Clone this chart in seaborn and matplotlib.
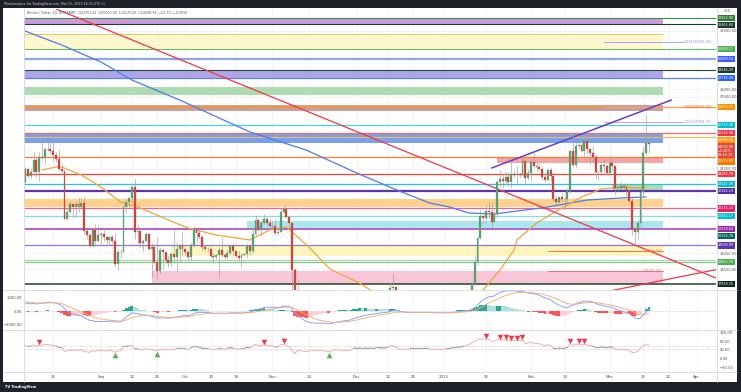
import numpy as np
import pandas as pd
import matplotlib
matplotlib.use("Agg")
import matplotlib.pyplot as plt
import matplotlib.dates as mdates
from matplotlib.lines import Line2D
from matplotlib.patches import Rectangle
from matplotlib.ticker import NullLocator, NullFormatter
import seaborn as sns

# ---------------- data: BTC/USD daily (BITSTAMP) ----------------
first_day = "2022-08-05"
# closes 2022-07-01 .. 2022-08-04 (indicator warm-up, outside the visible range)
warmup_close = [19280, 19250, 19300, 20230, 20190, 20550, 21620, 21590, 21590, 20850,
                19960, 19330, 20210, 20570, 20830, 21190, 20780, 22470, 23390, 23230,
                23160, 22680, 22460, 22580, 21310, 21250, 22950, 23850, 23780, 23640,
                23300, 23270, 22990, 22820, 22620]

close = [
    # Aug 5-31
    23310, 22960, 23180, 23810, 23150, 23950, 23940, 24400, 24440, 24300, 24100, 23850, 23340, 23200,
    20830, 21150, 21520, 21400, 21530, 21370, 21560, 20240, 20040, 19550, 20280, 19810, 20050,
    # Sep
    20130, 19950, 19830, 19990, 19800, 18790, 19290, 19320, 21370, 21650, 21830, 22400, 20180, 20240, 19700,
    19800, 20110, 19420, 19540, 18880, 18480, 19400, 19300, 18930, 18800, 19230, 19080, 19410, 19590, 19420,
    # Oct
    19310, 19060, 19620, 20340, 20160, 19960, 19530, 19420, 19440, 19130, 19060, 19150, 19370, 19180, 19070,
    19260, 19550, 19330, 19120, 19040, 19160, 19200, 19570, 19330, 20090, 20770, 20290, 20600, 20810, 20630, 20490,
    # Nov
    20480, 20150, 20210, 21150, 21300, 20910, 20600, 18540, 15880, 17590, 17070, 16810, 16330, 16620, 16900,
    16660, 16690, 16700, 16700, 16280, 15780, 16200, 16610, 16600, 16520, 16460, 16440, 16220, 16440, 17160,
    # Dec
    16980, 17090, 16890, 17110, 16970, 17090, 16840, 17230, 17130, 17130, 17100, 17210, 17780, 17810, 17360,
    16630, 16780, 16740, 16440, 16900, 16820, 16830, 16780, 16840, 16840, 16920, 16700, 16540, 16630, 16600, 16540,
    # Jan
    16610, 16670, 16670, 16850, 16830, 16950, 16940, 17120, 17180, 17440, 17940, 18850, 19930, 20950, 20870,
    21180, 21130, 20670, 21070, 22670, 22780, 22710, 22920, 22620, 23060, 23010, 23080, 23030, 23740, 22830, 23130,
    # Feb
    23730, 23490, 23430, 23330, 22930, 22760, 23260, 22960, 21800, 21630, 21860, 21780, 21780, 22200,
    24330, 23520, 24570, 24630, 24300, 24840, 24440, 24190, 23950, 23190, 23150, 23550, 23490, 23140,
    # Mar 1-15
    23630, 23470, 22350, 22350, 22430, 22410, 22200, 21700, 20360, 20190, 20630, 22140, 24200, 24761.41, 24698.99,
]
high = [
    23460, 23370, 23390, 24240, 23930, 24230, 24920, 24460, 24890, 25050, 25210, 24230, 24430, 23590,
    23200, 21370, 21680, 21520, 21660, 21860, 21820, 21860, 20330, 20140, 20400, 20560, 20480,
    20190, 20440, 19970, 20000, 20050, 20160, 19430, 19450, 21450, 21790, 21850, 22480, 22800, 20560, 20340,
    19900, 20180, 20170, 19680, 19630, 19950, 19500, 19460, 19310, 19170, 19300, 20350, 19760, 19640, 20190,
    19470, 19390, 19710, 20470, 20360, 20440, 20050, 19610, 19520, 19520, 19270, 19220, 19500, 19950, 19220,
    19400, 19670, 19700, 19350, 19350, 19240, 19260, 19690, 19600, 20400, 21000, 20850, 20750, 21070, 20930, 20830,
    20700, 20790, 20390, 21300, 21470, 21370, 20950, 20690, 18590, 18150, 17650, 17150, 16880, 17180, 17110,
    16970, 16730, 16990, 16810, 16780, 16290, 16250, 16680, 16780, 16610, 16690, 16600, 16480, 16520, 17240,
    17320, 17110, 17150, 17200, 17420, 17110, 17130, 17300, 17350, 17220, 17270, 17240, 18000, 18390, 17850,
    17530, 16800, 16860, 16820, 17040, 16910, 16860, 16950, 16860, 16870, 16940, 16960, 16780, 16660, 16640, 16630,
    16630, 16760, 16780, 16990, 16880, 17010, 16970, 17180, 17390, 17490, 18000, 19110, 19960, 21260, 21000,
    21470, 21640, 21620, 21180, 22750, 23280, 23060, 23160, 23170, 23780, 23280, 23480, 23160, 23950, 23790, 23310,
    23810, 24240, 23710, 23580, 23430, 23150, 23360, 23450, 23010, 21940, 21900, 22090, 21890, 22320,
    24380, 25250, 25020, 24860, 25180, 25120, 25250, 24470, 24600, 24130, 23210, 23690, 23880, 23600,
    24000, 23790, 23480, 22410, 22620, 22570, 22540, 22260, 21820, 20370, 20820, 22190, 24550, 26500, 25000,
]
low = [
    22590, 22900, 22850, 23150, 22880, 22680, 23880, 23580, 24310, 24150, 23780, 23700, 23210, 23110,
    20790, 20800, 21100, 20890, 20900, 21160, 21320, 20120, 19860, 19540, 19530, 19550, 19800,
    19650, 19770, 19660, 19600, 19640, 18650, 18540, 19020, 19300, 21120, 21380, 21580, 19880, 19650, 19500,
    19330, 19760, 19380, 18240, 18780, 18150, 18360, 18560, 18810, 18640, 18690, 18830, 18480, 18880, 19170,
    19170, 18950, 18970, 19500, 19750, 19870, 19350, 19330, 19330, 19060, 18880, 18980, 18190, 19080, 18980,
    19040, 19150, 19120, 19040, 18920, 18660, 19120, 19080, 19170, 19260, 20060, 20230, 20020, 20560, 20530, 20280,
    20350, 20070, 20050, 20180, 21080, 20880, 20400, 17170, 15600, 15750, 16400, 16760, 16230, 15820, 16560,
    16440, 16410, 16630, 16580, 16250, 15480, 15630, 16150, 16460, 16360, 16400, 16400, 16000, 16110, 16430,
    16860, 16790, 16880, 16880, 16880, 16910, 16680, 16740, 17090, 17090, 17070, 16870, 17080, 17660, 17280,
    16560, 16580, 16690, 16400, 16400, 16760, 16590, 16760, 16780, 16740, 16790, 16600, 16470, 16490, 16340, 16490,
    16500, 16550, 16610, 16650, 16770, 16680, 16910, 16910, 17100, 17140, 17310, 17910, 18720, 19880, 20550,
    20640, 20850, 20400, 20660, 20870, 22400, 22320, 22530, 22460, 22340, 22860, 22530, 22880, 23000, 22560, 22730,
    22760, 23380, 23220, 23250, 22760, 22640, 22740, 22680, 21700, 21470, 21600, 21630, 21360, 21530,
    22060, 23460, 23370, 24450, 24270, 23880, 24150, 23600, 23640, 22860, 22750, 23080, 23110, 23020,
    23020, 23200, 21990, 22190, 22270, 22310, 21930, 21610, 20050, 19550, 19890, 20270, 21910, 24100, 24176.56,
]

# moving averages
ema_fast_dates = ["2022-08-11", "2022-08-16", "2022-08-18", "2022-08-25", "2022-09-01", "2022-09-08",
                  "2022-09-15", "2022-09-25", "2022-10-02", "2022-10-12", "2022-10-24", "2022-10-31",
                  "2022-11-06", "2022-11-08", "2022-11-14", "2022-11-20", "2022-11-22", "2022-12-02",
                  "2022-12-07", "2022-12-20", "2023-01-05", "2023-01-15", "2023-01-21", "2023-01-26",
                  "2023-01-27", "2023-02-03", "2023-02-09", "2023-02-14", "2023-02-19", "2023-02-26",
                  "2023-03-05", "2023-03-12", "2023-03-14"]
ema_fast_vals = [23274, 23434, 23434, 23009, 22387, 21633, 21339, 20762, 20386, 20062, 19835, 20293,
                 20432, 20200, 19520, 18734, 18521, 17979, 17613, 17350, 17300, 17694, 18521, 19387,
                 19835, 20620, 21096, 21486, 21882, 22285, 22387, 22337, 22387]
ema_slow_dates = ["2022-08-05", "2022-08-18", "2022-09-01", "2022-09-12", "2022-09-29", "2022-10-24",
                  "2022-11-13", "2022-12-01", "2022-12-17", "2022-12-27", "2023-01-03", "2023-01-10",
                  "2023-01-19", "2023-02-07", "2023-02-21", "2023-03-05", "2023-03-14"]
ema_slow_vals = [31971, 30965, 29785, 28585, 27309, 25384, 24361, 23115, 22133, 21584, 21388, 21096,
                 21048, 21388, 21732, 21832, 21882]

# horizontal levels
level_prices = [32933.90, 32465.80, 30680.11, 30009.54, 29246.49, 28716.34, 26875.71, 25793.28,
                25326.38, 25096.44, 23975.87, 23062.78, 22541.76, 22183.19, 21316.10, 20952.17,
                20339.04, 19590.09, 18863.79, 17938.35]
level_colors = ['#3e8e4e', '#1d3b2b', '#66bb6a', '#8fa6ec', '#1e4b33', '#5b83f0', '#ff9800', '#4dd0e1',
                '#f26b6b', '#ffb74d', '#ff7b2e', '#f44336', '#26c6da', '#5e35b1', '#f06292', '#80deea',
                '#ab47bc', '#9575cd', '#81c784', '#1e4620']
badge_colors = ['#2e7d32', '#17382a', '#4caf50', '#3d5afe', '#173d2b', '#2962ff', '#f59300', '#00bcd4',
                '#f23645', '#ff9800', '#f57c00', '#f23645', '#00bcd4', '#512da8', '#e91e63', '#00bcd4',
                '#9c27b0', '#5e35b1', '#4caf50', '#0f2a1b']
level_widths = [0.8, 0.8, 0.8, 1.6, 0.8, 0.9, 0.9, 0.9, 0.9, 0.8, 0.9, 0.9, 0.9, 1.6, 0.9, 0.9,
                1.2, 0.9, 0.9, 1.1]
extra_badge_price = 20154.78
extra_badge_color = '#00695c'

# zones
zone_low = [32465.80, 30680.11, 28716.34, 27623, 26631, 24750, 23649, 22234, 21388, 20386, 19123, 17938.35]
zone_high = [32933.90, 31753, 29246.49, 28132, 26999, 25330, 23975.87, 22541.76, 21782, 20714, 19565, 18479]
zone_start = ["2022-08-01", "2022-08-01", "2022-08-01", "2022-08-01", "2022-08-01", "2022-08-01",
              "2023-01-20", "2023-03-02", "2022-08-01", "2022-10-23", "2022-09-26", "2022-09-19"]
zone_end = "2023-03-20"
zone_colors = ['#c98fd9', '#fff7c8', '#a99be8', '#a6d8a8', '#c49492', '#6a96ea', '#f39a9a', '#a6d8a8',
               '#ffcc80', '#a0e4ec', '#fff4b8', '#f8c0d4']

# fibonacci extension labels
fib_prices = [31166.32, 26875.71, 25994.71]
fib_labels = ["2.618(31166.32)", "1.618(26875.71)", "1.382(25994.71)"]
fib_colors = ['#9fb4f0', '#f6a07a', '#d6a3d9']
fib_text_colors = ['#7b93e8', '#ef5350', '#c27bd0']
fib_start, fib_end = "2023-02-27", "2023-03-27"
short_prices = [19350.23, 18486.57]
short_labels = ["(19350.23)", "(18486.57)"]
short_colors = ['#ff7043', '#e57373']
short_start = "2023-02-07"

# trend lines
trend_red_dates = ["2022-08-14", "2022-10-17"]
trend_red_prices = [33797, 28585]
trend_red2_dates = ["2023-03-01", "2023-04-09"]
trend_red2_prices = [17654, 18564]
trend_purple_dates = ["2023-01-18", "2023-03-23"]
trend_purple_prices = [23380, 27309]

# RSI signal markers
rsi_sell_dates = ["2022-08-10", "2022-10-29", "2022-11-05", "2023-01-16", "2023-01-21", "2023-01-23",
                  "2023-01-25", "2023-01-27", "2023-01-29", "2023-02-15", "2023-02-18", "2023-02-20"]
rsi_buy_dates = ["2022-09-06", "2022-09-21", "2022-11-21"]

time_ticks = ["2022-08-15", "2022-09-01", "2022-09-12", "2022-09-21", "2022-10-01", "2022-10-10",
              "2022-10-19", "2022-11-01", "2022-11-14", "2022-12-01", "2022-12-12", "2022-12-21",
              "2023-01-01", "2023-01-16", "2023-02-01", "2023-02-13", "2023-03-01", "2023-03-13",
              "2023-03-22", "2023-04-01"]
time_labels = ["15", "Sep", "12", "21", "Oct", "10", "19", "Nov", "14", "Dec", "12", "21", "2023", "16",
               "Feb", "13", "Mar", "13", "22", "Apr"]
price_ticks = [17750, 18150, 18550, 18850, 19250, 19850, 20500, 21000, 21500, 22000, 22750, 23350,
               24000, 25000, 26000, 27000, 27500, 28000, 28400, 29000, 30000, 31000, 32000, 33000]

# ---------------- derived series ----------------
dates = pd.date_range(first_day, periods=len(close), freq="D")
xd = mdates.date2num(dates)
c = np.array(close, float)
h = np.array(high, float)
l = np.array(low, float)
o = np.r_[warmup_close[-1], c[:-1]]

allc = pd.Series(list(warmup_close) + list(close), dtype=float)
ema12 = allc.ewm(span=12, adjust=False).mean()
ema26 = allc.ewm(span=26, adjust=False).mean()
macd_all = ema12 - ema26
sig_all = macd_all.ewm(span=9, adjust=False).mean()
n = len(close)
macd = macd_all.values[-n:]
sig = sig_all.values[-n:]
hist = macd - sig
delta = allc.diff().fillna(0)
ag = delta.clip(lower=0).ewm(alpha=1 / 14, adjust=False).mean()
al = (-delta.clip(upper=0)).ewm(alpha=1 / 14, adjust=False).mean()
rsi = (100 - 100 / (1 + ag / al)).values[-n:]


def psar(hh, ll, step=0.02, mx=0.2):
    m = len(hh)
    sar = np.zeros(m)
    up = np.zeros(m, bool)
    bull, af, ep = True, step, hh[0]
    sar[0], up[0] = ll[0], True
    for i in range(1, m):
        s = sar[i - 1] + af * (ep - sar[i - 1])
        if bull:
            s = min(s, ll[i - 1], ll[max(i - 2, 0)])
            if ll[i] < s:
                bull, s, ep, af = False, ep, ll[i], step
            elif hh[i] > ep:
                ep, af = hh[i], min(af + step, mx)
        else:
            s = max(s, hh[i - 1], hh[max(i - 2, 0)])
            if hh[i] > s:
                bull, s, ep, af = True, ep, hh[i], step
            elif ll[i] < ep:
                ep, af = ll[i], min(af + step, mx)
        sar[i], up[i] = s, bull
    return sar, up


sar, sar_up = psar(h, l)

# ---------------- figure ----------------
sns.set_theme(style="white")
plt.rcParams['font.family'] = ['DejaVu Sans']
W, H = 741, 392
fig = plt.figure(figsize=(W / 100, H / 100), dpi=100)
fig.patch.set_facecolor('#1f2129')


def fx(px):
    return px / W


def fy(py):
    return 1 - py / H


fig.add_artist(Rectangle((fx(3), fy(382)), fx(737) - fx(3), fy(8) - fy(382),
                         transform=fig.transFigure, facecolor='white', edgecolor='none', zorder=-10))

L, R, TOP, BOT = 24, 716, 9, 290
ax = fig.add_axes([fx(L), fy(BOT), fx(R) - fx(L), fy(TOP) - fy(BOT)])
axm = fig.add_axes([fx(L), fy(330), fx(R) - fx(L), fy(290) - fy(330)])
axr = fig.add_axes([fx(L), fy(372), fx(R) - fx(L), fy(330) - fy(372)])

x0 = mdates.date2num(pd.Timestamp("2022-08-04")) + 0.6
x1 = x0 + (R - L) / 2.81
tx = mdates.date2num(pd.to_datetime(time_ticks))
grid_c = '#eef0f4'
for a in (ax, axm, axr):
    a.set_facecolor('white')
    for s in a.spines.values():
        s.set_visible(False)
    a.set_xlim(x0, x1)
    for t in tx:
        a.axvline(t, color=grid_c, lw=0.5, zorder=0)
    a.tick_params(axis='both', length=0, labelsize=2.7, colors='#4a4d57', pad=1.5)
    a.set_xticks([])

# ---- main pane ----
YMIN, YMAX = 17694, 33619
ax.set_yscale('log')
ax.set_ylim(YMIN, YMAX)
ax.yaxis.tick_right()
ax.yaxis.set_minor_locator(NullLocator())
ax.yaxis.set_minor_formatter(NullFormatter())


def ypix(p):
    # pixel row (from the top of the image) of a price in the main pane
    frac = (np.log(p) - np.log(YMIN)) / (np.log(YMAX) - np.log(YMIN))
    return BOT - frac * (BOT - TOP)


zend = mdates.date2num(pd.Timestamp(zone_end))
for lo_, hi_, st, col in zip(zone_low, zone_high, zone_start, zone_colors):
    xs = mdates.date2num(pd.Timestamp(st))
    ax.add_patch(Rectangle((xs, lo_), zend - xs, hi_ - lo_, facecolor=col, edgecolor='none',
                           alpha=0.9, zorder=1))
ax.plot([x0 - 5, zend], [zone_high[1], zone_high[1]], color='#efc65e', lw=0.7, zorder=1.5)

for p, col, w in zip(level_prices, level_colors, level_widths):
    ax.axhline(p, color=col, lw=w, zorder=2)
ax.axhline(18949, color='#a5d6a7', lw=0.8, zorder=2)

fs, fe = mdates.date2num(pd.Timestamp(fib_start)), mdates.date2num(pd.Timestamp(fib_end))
for p, lab, col, tcol in zip(fib_prices, fib_labels, fib_colors, fib_text_colors):
    ax.plot([fs, fe], [p, p], color=col, lw=0.8, zorder=2.2)
    ax.text(fe + 0.4, p, lab, color=tcol, fontsize=2.4, va='center', ha='left', zorder=6)
ss = mdates.date2num(pd.Timestamp(short_start))
for p, lab, col in zip(short_prices, short_labels, short_colors):
    ax.plot([ss, zend], [p, p], color=col, lw=0.7, zorder=2.2)
    ax.text(zend - 0.3, p, lab, color=col, fontsize=2.3, va='center', ha='right', zorder=6)

sns.lineplot(x=mdates.date2num(pd.to_datetime(ema_slow_dates)), y=ema_slow_vals, ax=ax,
             color='#4a7cf0', lw=0.9, zorder=3, legend=False)
sns.lineplot(x=mdates.date2num(pd.to_datetime(ema_fast_dates)), y=ema_fast_vals, ax=ax,
             color='#f5a33b', lw=0.9, zorder=3, legend=False)

trx = mdates.date2num(pd.to_datetime(trend_red_dates))
ax.axline((trx[0], trend_red_prices[0]), (trx[1], trend_red_prices[1]), color='#f23645', lw=0.9, zorder=4)
tr2 = mdates.date2num(pd.to_datetime(trend_red2_dates))
ax.plot(tr2, trend_red2_prices, color='#f23645', lw=0.9, zorder=4)
tpx = mdates.date2num(pd.to_datetime(trend_purple_dates))
ax.plot(tpx, trend_purple_prices, color='#6a3fc0', lw=1.1, zorder=4)

up = c >= o
cols = np.where(up, '#5b9f6e', '#c9473b')
ax.vlines(xd, l, h, color='#9e9e9e', lw=0.45, zorder=4.5)
ax.bar(xd, np.maximum(np.abs(c - o), 12), bottom=np.minimum(o, c), width=0.68, color=cols,
       edgecolor=cols, linewidth=0.2, zorder=5)

sns.scatterplot(x=xd[sar_up], y=sar[sar_up], ax=ax, color='#5cb860', s=0.5, marker='s',
                linewidth=0, alpha=0.9, zorder=5.5, legend=False)
sns.scatterplot(x=xd[~sar_up], y=sar[~sar_up], ax=ax, color='#f05a5a', s=0.5, marker='s',
                linewidth=0, alpha=0.9, zorder=5.5, legend=False)
ax.set_xlim(x0, x1)
ax.set_ylim(YMIN, YMAX)
ax.set_xlabel('')
ax.set_ylabel('')

# ---- price-scale badges, stacked so they do not overlap ----
badges = [(p, f"{p:.2f}", bc, 1) for p, bc in zip(level_prices, badge_colors)]
badges.append((extra_badge_price, f"{extra_badge_price:.2f}", extra_badge_color, 1))
badges.append((close[-1], f"{close[-1]:.2f}\n\u22120.26%\n08:28:31", '#e0473d', 3))
items = sorted([(ypix(p), txt, col, nl) for p, txt, col, nl in badges])
LINE_H, PADP = 4.0, 1.2
placed = []
last_bottom = -1e9
for yc, txt, col, nl in items:
    hh = nl * LINE_H + 2 * PADP
    top = max(yc - hh / 2, last_bottom + 0.4)
    last_bottom = top + hh
    placed.append((top + hh / 2, txt, col, hh))
for yc, txt, col, hh in placed:
    ax.text(1.003, (BOT - yc) / (BOT - TOP), txt, transform=ax.transAxes, fontsize=2.45, color='white',
            va='center', ha='left', linespacing=1.0, clip_on=False, zorder=10,
            bbox=dict(boxstyle='square,pad=0.35', facecolor=col, edgecolor='none'))

# tick labels only where no badge covers them, and not crowded
vis_ticks = []
for p in sorted(price_ticks, key=lambda q: -q):
    yp = ypix(p)
    if yp < 17 or yp > BOT - 2:
        continue
    if any(abs(yp - yc) <= hh / 2 + 2.0 for yc, _, _, hh in placed):
        continue
    if vis_ticks and abs(yp - ypix(vis_ticks[-1])) < 6:
        continue
    vis_ticks.append(p)
for p in vis_ticks:
    ax.axhline(p, color=grid_c, lw=0.5, zorder=0)
ax.set_yticks(vis_ticks)
ax.set_yticklabels([f"{p:.2f}" for p in vis_ticks])
ax.tick_params(axis='y', labelsize=2.6, pad=2.5)

ax.text(3 / 692, 1 - 3.5 / 281,
        "Bitcoin / Dollar, 1D, BITSTAMP   O24761.41  H25000.00  L24176.56  C24698.99  \u221262.70 (\u22120.26%)",
        transform=ax.transAxes, fontsize=2.3, color='#555861', va='center', ha='left', zorder=12)

# ---- MACD pane ----
colors_h = []
for i, v in enumerate(hist):
    prev = hist[i - 1] if i > 0 else v
    if v >= 0:
        colors_h.append('#26a69a' if v >= prev else '#b2dfdb')
    else:
        colors_h.append('#ff5252' if v < prev else '#ffcdd2')
axm.bar(xd, hist, width=1.0, color=colors_h, linewidth=0, zorder=2)
axm.axhline(0, color='#c5c7cc', lw=0.5, ls=(0, (1, 1)), zorder=1)
sns.lineplot(x=xd, y=macd, ax=axm, color='#8aa4f6', lw=0.7, zorder=3, legend=False)
sns.lineplot(x=xd, y=sig, ax=axm, color='#f6b27e', lw=0.7, zorder=3, legend=False)
axm.set_xlim(x0, x1)
axm.set_ylim(-1407, 1556)
axm.set_yticks([1000, 0, -1000])
axm.set_yticklabels(["1000.00", "0.00", "\u22121000.00"])
axm.yaxis.tick_left()
axm.set_xticks([])
axm.set_xlabel('')
axm.set_ylabel('')

# ---- RSI pane ----
axr.axhline(58, color='#b9bbc2', lw=0.5, ls=(0, (1, 1.5)), zorder=1)
axr.axhline(45, color='#b9bbc2', lw=0.5, ls=(0, (1, 1.5)), zorder=1)
sns.lineplot(x=xd, y=rsi, ax=axr, color='#f3a0a0', lw=0.6, zorder=2, legend=False)
rsi_mid = np.where((rsi >= 45) & (rsi <= 58), rsi, np.nan)
axr.plot(xd, rsi_mid, color='#9a9ca3', lw=0.6, zorder=2.5)
sd = mdates.date2num(pd.to_datetime(rsi_sell_dates))
bd = mdates.date2num(pd.to_datetime(rsi_buy_dates))
sidx = [int(round(v - xd[0])) for v in sd]
bidx = [int(round(v - xd[0])) for v in bd]
sns.scatterplot(x=sd, y=rsi[sidx] + 13, ax=axr, color='#f23645', marker='v', s=16, linewidth=0,
                zorder=4, legend=False)
sns.scatterplot(x=bd, y=rsi[bidx] - 13, ax=axr, color='#4caf50', marker='^', s=16, linewidth=0,
                zorder=4, legend=False)
axr.set_xlim(x0, x1)
axr.set_ylim(-57.8, 128.9)
axr.yaxis.tick_right()
axr.set_yticks([120, 80, 40, 0, -40])
axr.set_yticklabels(["120.00", "80.00", "40.00", "0.00", "\u221240.00"])
axr.set_xticks(tx)
axr.set_xticklabels(time_labels)
axr.tick_params(axis='x', labelsize=2.8, pad=2.5, colors='#4a4d57')
axr.tick_params(axis='y', pad=2.5)
axr.set_xlabel('')
axr.set_ylabel('')

# ---- frame, separators, texts ----
sep = '#d5d7dd'
fig.add_artist(Line2D([fx(R + 0.5), fx(R + 0.5)], [fy(8), fy(382)], color=sep, lw=0.6, transform=fig.transFigure))
fig.add_artist(Line2D([fx(L - 0.5), fx(L - 0.5)], [fy(8), fy(382)], color=sep, lw=0.6, transform=fig.transFigure))
for yy in (290, 330, 372):
    fig.add_artist(Line2D([fx(3), fx(737)], [fy(yy), fy(yy)], color=sep, lw=0.6, transform=fig.transFigure))
fig.text(fx(727), fy(11.5), "USD", fontsize=2.4, color='#666', ha='center', va='center')
fig.text(fx(4), fy(4), "Marktanalyse f\u00fcr TradingView.com, Mar 15, 2023 16:31 UTC+1", fontsize=2.3,
         color='#c7c9d1', ha='left', va='center')
fig.text(fx(5), fy(387), "TV TradingView", fontsize=2.6, color='white', weight='bold', ha='left', va='center')

fig.savefig("out.png", dpi=100, facecolor=fig.get_facecolor())
